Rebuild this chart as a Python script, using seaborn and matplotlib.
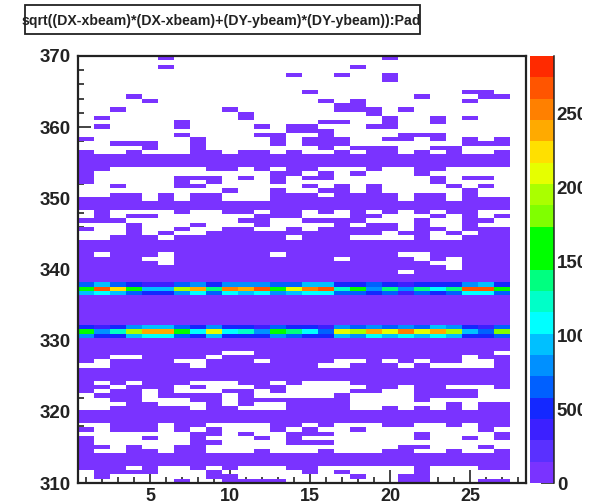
import numpy as np
import seaborn as sns
import matplotlib.pyplot as plt
from matplotlib.colors import ListedColormap
from matplotlib.ticker import FixedLocator
from matplotlib.transforms import Bbox

title = "sqrt((DX-xbeam)*(DX-xbeam)+(DY-ybeam)*(DY-ybeam)):Pad"
n_pads = 27
n_rows = 100
low_count = 40
vmax = 2890

# palette, bottom to top
palette = ["#7a33ff", "#5a30ff", "#3c20ff", "#1428ff", "#0060ff", "#0090ff", "#00c0ff",
           "#00ffff", "#00ffc8", "#00ff80", "#00ff00", "#00ff00", "#80ff00", "#aaff00",
           "#e6ff00", "#ffe000", "#ffaa00", "#ff8000", "#ff5500", "#ff2a00"]

# sparse rows at the top: pads that have entries (row 0 = top of the plot)
filled = {
    0: [6, 20], 1: [], 2: [6, 18], 3: [], 4: [14, 17, 20], 5: [20], 6: [], 7: [],
    8: [15, 25, 26], 9: [4, 22, 26, 27], 10: [5, 16, 18, 25], 11: [17, 18],
    12: [3, 10, 17, 18, 19, 21], 13: [11, 19], 14: [2, 11, 20, 23, 25],
    15: [7, 16, 17, 20, 23], 16: [2, 7, 12, 14, 15, 19, 20], 17: [14, 15, 16],
    18: [7, 12, 13, 16, 21, 22, 23], 19: [1, 8, 13, 15, 16, 17, 20, 21, 23, 25, 27],
    20: [3, 4, 5, 8, 13, 15, 16, 17, 25, 26, 27], 21: [5, 8, 16, 18, 19, 20, 23, 24],
    22: [1, 4, 8, 9, 11, 12, 14, 17, 19, 20, 22, 24, 27],
    26: [1, 2, 9, 10, 12, 14, 15, 19, 22, 23], 27: [1, 13, 14, 16, 18, 22],
    28: [1, 7, 8, 9, 11, 13, 15, 16, 23, 25, 26], 29: [1, 7, 9, 13, 23],
    30: [3, 7, 8, 15, 17, 19, 24, 26], 31: [10, 13, 16, 17, 19, 25],
    32: [3, 4, 6, 8, 9, 13, 14, 15, 17, 18, 19, 20, 22, 23, 25],
    33: [1, 2, 3, 4, 6, 8, 9, 13, 14, 15, 16, 17, 18, 19, 20, 22, 23, 25, 26, 27],
}

# dense rows further down: pads without entries
empty = {
    36: [1, 3, 4, 5, 6, 8, 9, 12, 15, 17, 19, 21, 23, 26, 27],
    37: [1, 3, 6, 7, 8, 9, 10, 11, 15, 16, 17, 20, 21, 22, 24, 26],
    38: [4, 5, 6, 7, 8, 9, 10, 13, 14, 19, 20, 21, 23, 24, 27],
    39: [1, 2, 3, 5, 6, 7, 9, 10, 11, 13, 14, 15, 16, 18, 21, 23, 24, 26, 27],
    40: [2, 3, 5, 6, 8, 9, 12, 13, 15, 21, 24],
    41: [1, 2, 3, 5, 7, 8, 20, 23, 25],
    42: [1, 2, 6, 14, 18, 19, 20, 21, 23, 24],
    46: [2, 6, 13, 21, 22], 47: [5, 6, 17, 22, 24], 48: [6, 23, 24], 49: [24], 50: [21],
    69: [10, 11, 27], 70: [3, 4, 9, 25],
    71: [2, 7, 8, 12, 17, 18, 20, 22, 25, 26],
    72: [1, 2, 8, 16, 17, 21, 23, 24, 25, 26],
    76: [2, 4, 8, 9, 10, 13, 15, 16, 17],
    77: [3, 7, 9, 10, 11, 14, 15, 16, 17, 18, 21, 24, 25, 26],
    78: [2, 5, 7, 8, 9, 12, 14, 15, 16, 17, 20, 21, 26, 27],
    79: [1, 5, 10, 12, 13, 14, 15, 16, 18, 19, 20, 21, 26, 27],
    80: [1, 2, 5, 6, 7, 10, 18, 19, 20, 21, 23, 24, 25, 26, 27],
    81: [1, 2, 3, 6, 7, 8, 10, 12, 13, 18, 19, 20, 21, 22, 23, 25],
    82: [1, 2, 8, 11, 12, 13, 18, 19, 21, 23, 25],
    86: [1, 2, 6, 9, 10, 11, 12, 15, 17, 18, 19, 22, 23, 25],
    87: [2, 6, 8, 10, 11, 12, 14, 16, 17, 19, 20, 21, 22, 23, 24, 25, 27],
    88: [1, 2, 3, 4, 5, 6, 7, 10, 12, 13, 17, 18, 19, 20, 21, 23, 24, 25, 26],
    89: [2, 3, 4, 6, 7, 9, 10, 11, 13, 15, 16, 17, 18, 19, 20, 21, 23, 24, 26],
    90: [2, 3, 4, 5, 6, 7, 10, 11, 12, 13, 17, 18, 19, 20, 21, 22, 23, 24, 25, 26, 27],
    91: [3, 5, 6, 9, 10, 11, 12, 13, 14, 15, 16, 17, 18, 19, 20, 23, 24, 25, 27],
    92: [2, 3, 6, 9, 10, 11, 13, 14, 15, 17, 18, 19, 22, 23, 25, 26],
    96: [4, 6, 7, 9, 11, 12, 13, 16, 17, 18, 19, 20, 21, 23, 24, 25],
    97: [1, 6, 7, 8, 10, 11, 12, 13, 14, 16, 18, 19, 20, 21, 23, 24, 25, 26, 27],
    98: [1, 3, 4, 5, 6, 7, 8, 11, 12, 13, 14, 15, 16, 17, 19, 20, 23, 24, 25, 26, 27],
    99: [1, 2, 3, 4, 5, 6, 8, 9, 14, 15, 16, 17, 18, 19, 20, 23, 24, 25],
}

# the two peaks, counts per pad
peak_rows = {
    53: [650, 940, 650, 505, 360, 360, 650, 795, 505, 795, 795, 795, 650, 650,
         940, 940, 505, 505, 650, 505, 360, 505, 505, 505, 795, 940, 505],
    54: [1660, 2675, 2240, 1520, 940, 940, 1950, 2385, 1375, 2530, 2385, 2675, 1520, 2095,
         2530, 2675, 1230, 1520, 795, 1375, 795, 1375, 1085, 1375, 2675, 2675, 1660],
    55: [940, 1085, 940, 650, 505, 505, 795, 1085, 650, 1085, 940, 1085, 795, 940,
         1085, 1085, 650, 650, 505, 650, 360, 650, 505, 650, 1085, 1085, 650],
    63: [505, 360, 505, 795, 940, 940, 650, 505, 795, 505, 505, 360, 650, 505,
         505, 360, 795, 650, 795, 650, 795, 650, 940, 795, 505, 360, 650],
    64: [1660, 795, 1230, 1950, 2385, 2385, 1520, 1085, 2095, 1085, 1230, 795, 1520, 1375,
         1085, 650, 2095, 1950, 2385, 2095, 2530, 2095, 2385, 1950, 940, 650, 1805],
    65: [795, 505, 505, 940, 1085, 1085, 650, 505, 940, 505, 505, 505, 795, 650,
         505, 505, 940, 795, 1085, 940, 1085, 940, 1085, 940, 505, 505, 650],
}

counts = np.full((n_rows, n_pads), float(low_count))
for row, pads in filled.items():
    counts[row] = np.nan
    for p in pads:
        counts[row, p - 1] = low_count
for row, pads in empty.items():
    for p in pads:
        counts[row, p - 1] = np.nan
for row, vals in peak_rows.items():
    counts[row] = vals

W, H = 596, 504
sns.set_style("white")
plt.rcParams["font.family"] = ["Liberation Sans", "DejaVu Sans"]

fig = plt.figure(figsize=(W / 100, H / 100), dpi=100)
ax = fig.add_axes([78 / W, 1 - 483 / H, 448 / W, 427 / H])
cax = fig.add_axes([530 / W, 1 - 483 / H, 24 / W, 427 / H])

sns.heatmap(counts, mask=np.isnan(counts), cmap=ListedColormap(palette), vmin=0, vmax=vmax,
            ax=ax, cbar_ax=cax, xticklabels=False, yticklabels=False)

# pad p sits at p - 0.5 in cell units, 100 rows cover 310-370
ax.set_xlim(0, 28)
ax.set_ylim(n_rows, 0)
x_major = [5, 10, 15, 20, 25]
y_major = [310, 320, 330, 340, 350, 360, 370]
ax.set_xticks([p - 0.5 for p in x_major])
ax.set_xticklabels(x_major, fontsize=13, fontweight="bold", color="#222222")
ax.xaxis.set_minor_locator(FixedLocator([p + 0.5 for p in range(28)]))
ax.set_yticks([(370 - v) / 0.6 for v in y_major])
ax.set_yticklabels(y_major, fontsize=13.5, fontweight="bold", color="#222222")
ax.yaxis.set_minor_locator(FixedLocator([(370 - v) / 0.6 for v in range(310, 371, 2)]))
ax.tick_params(which="major", direction="in", length=9.5, width=1.1, color="#111111", pad=5,
               bottom=True, left=True)
ax.tick_params(which="minor", direction="in", length=4.5, width=1.1, color="#111111",
               bottom=True, left=True)
ax.tick_params(axis="x", which="major", pad=3.5)
for side in ["left", "right", "top", "bottom"]:
    ax.spines[side].set_visible(True)
    ax.spines[side].set_color("#222222")
    ax.spines[side].set_linewidth(1.6)

# colour bar, labels get cut off at the right like the original
cbar = ax.collections[0].colorbar
cbar.outline.set_visible(False)
cbar.set_ticks([0, 500, 1000, 1500, 2000, 2500])
cbar.set_ticklabels(["0", "500", "1000", "1500", "2000", "2500"])
cax.tick_params(axis="y", which="major", direction="in", length=9.5, width=1.1, color="#111111",
                pad=2, right=True, labelsize=13.5)
cax.spines["right"].set_visible(True)
cax.spines["right"].set_color("#222222")
cax.spines["right"].set_linewidth(1.1)
clip = Bbox([[0, 0], [582, H]])
for lab in cax.get_yticklabels():
    lab.set_fontweight("bold")
    lab.set_color("#222222")
    lab.set_clip_box(clip)
    lab.set_clip_on(True)

# title box
fig.patches.append(plt.Rectangle((25 / W, 1 - 34 / H), 395 / W, 29 / H, transform=fig.transFigure,
                                 facecolor="white", edgecolor="#222222", linewidth=1.3, figure=fig))
fig.text(221 / W, 1 - 21 / H, title, fontsize=10.2, fontweight="bold", color="#222222",
         ha="center", va="center")

fig.savefig("out.png", dpi=100)
